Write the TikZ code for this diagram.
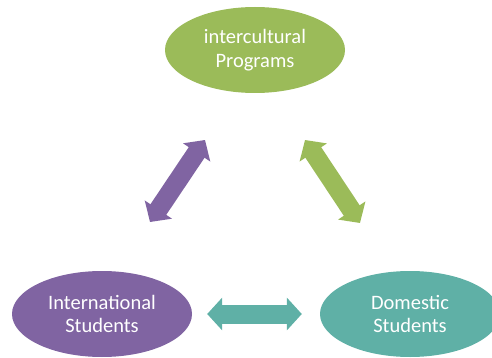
\documentclass[tikz,border=0pt]{standalone}
\usepackage{fontspec}
\setmainfont{Carlito}
\usetikzlibrary{shapes.geometric,arrows.meta}
\definecolor{progreen}{HTML}{9BBB59}
\definecolor{intlpurple}{HTML}{8064A2}
\definecolor{domteal}{HTML}{5FB0A6}

\begin{document}
\begin{tikzpicture}[x=1pt,y=-1pt,
  bubble/.style={ellipse,minimum width=180pt,minimum height=86pt,inner sep=0pt,
    text=white,align=center,font=\fontsize{20.5}{23.5}\selectfont},
  fatarrow/.style={line width=19pt,{Triangle[length=15pt,width=32pt]}-{Triangle[length=15pt,width=32pt]}}]
\useasboundingbox (0,0) rectangle (492,358);
\node[bubble,fill=progreen] (prog) at (255,50) {intercultural\\Programs};
\node[bubble,fill=intlpurple] (intl) at (102,314) {International\\Students};
\node[bubble,fill=domteal] (dom) at (410,314) {Domestic\\Students};
\coordinate (pl1) at (150,222);
\coordinate (pl2) at (205,140);
\coordinate (gr1) at (305,140);
\coordinate (gr2) at (360,223);
\draw[fatarrow,intlpurple] (pl1) -- (pl2);
\draw[fatarrow,progreen] (gr1) -- (gr2);
\draw[fatarrow,domteal,shorten <=15pt,shorten >=18pt] (intl) -- (dom);
\end{tikzpicture}
\end{document}
